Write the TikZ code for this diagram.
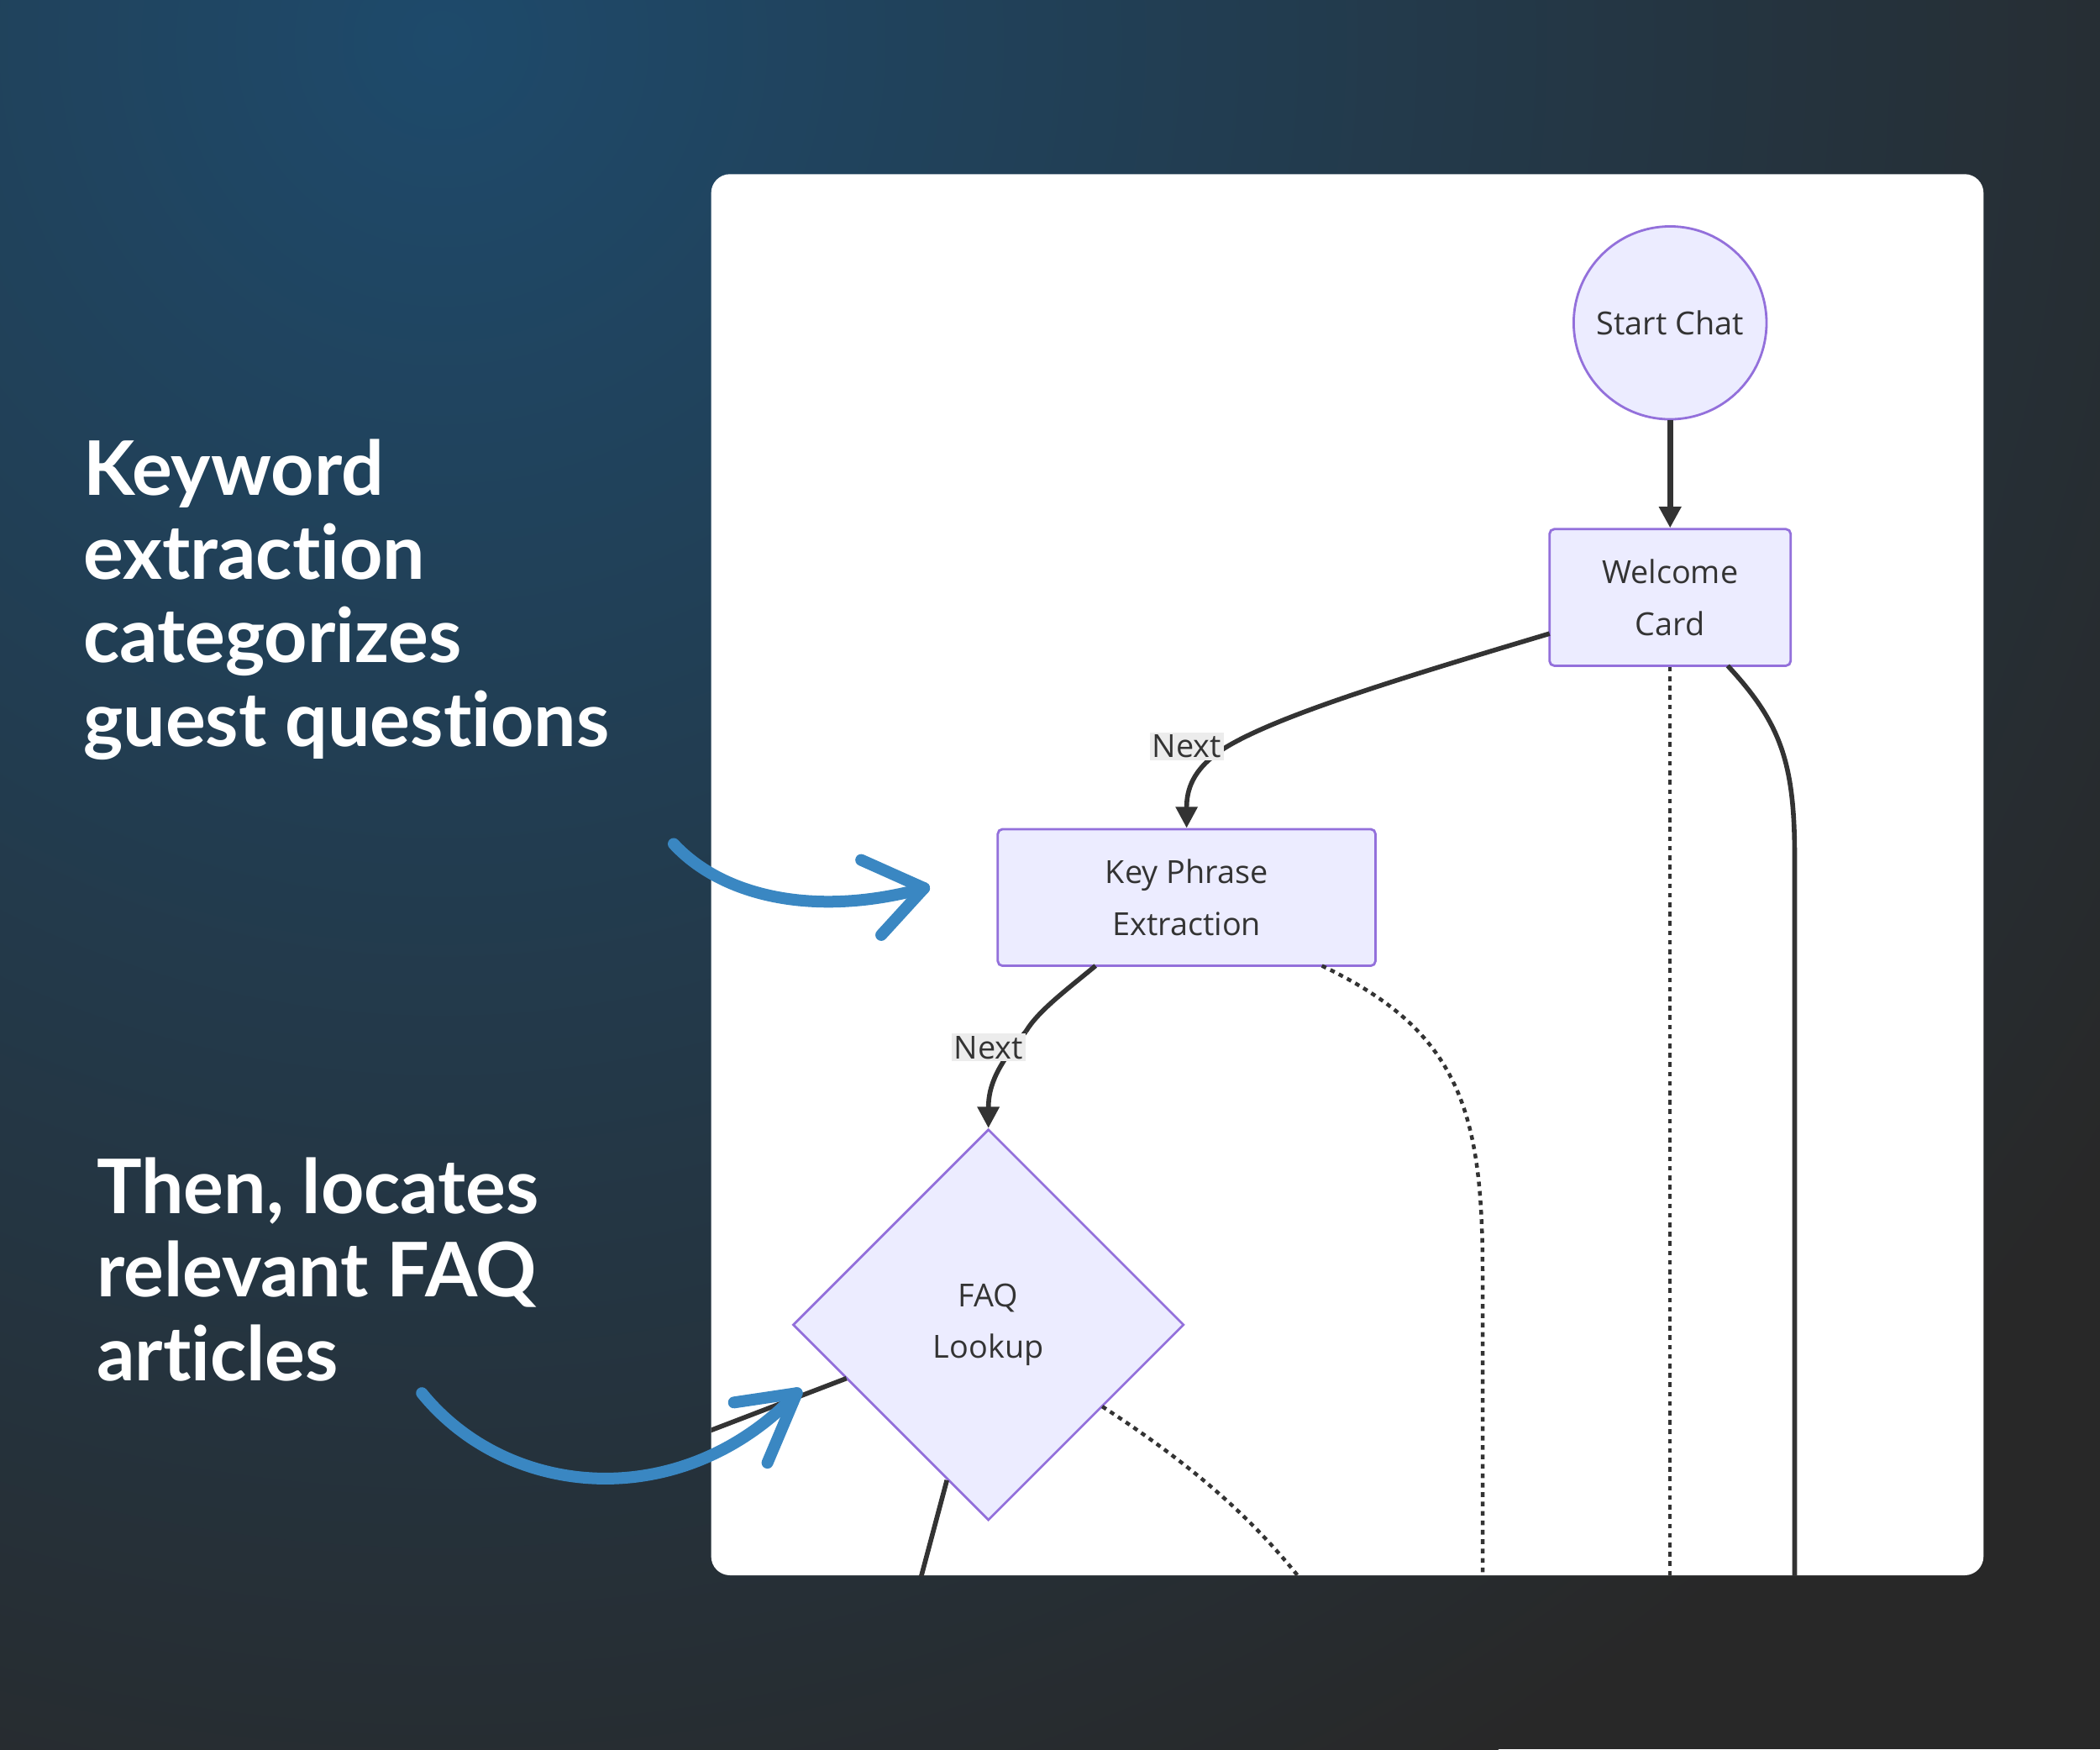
\documentclass[tikz,border=0pt]{standalone}
\usepackage{fontspec}
\setmainfont{Open Sans}
\newfontfamily\headfont{Lato}[Ligatures={NoCommon}]
\usetikzlibrary{arrows.meta,shapes.geometric}
\definecolor{nodefill}{HTML}{ECECFF}
\definecolor{nodedraw}{HTML}{9370DB}
\definecolor{edge}{HTML}{333333}
\definecolor{blueA}{HTML}{3A87C2}
\definecolor{bgblue}{HTML}{1E4A6B}
\definecolor{bgdark}{HTML}{282828}
\begin{document}
\begin{tikzpicture}[x=0.02cm,y=-0.02cm,
  nd/.style={fill=nodefill,draw=nodedraw,line width=1pt,font=\fontsize{13.5}{22}\selectfont,text=edge,align=center},
  ed/.style={draw=edge,line width=2pt},
  eda/.style={ed,-{Triangle[length=9pt,width=9pt]}},
  dot/.style={draw=edge,line width=1.6pt,dash pattern=on 2pt off 2pt},
  lbl/.style={fill=gray!15,inner sep=1pt,font=\fontsize{13.5}{15}\selectfont,text=edge},
  blue/.style={draw=blueA,line width=5pt,line cap=round,line join=round},
  head/.style={text=white,font=\headfont\bfseries\fontsize{32}{35.5}\selectfont,align=left,anchor=north west}]
\useasboundingbox (0,0) rectangle (1568,1306);
\begin{scope}
\clip (0,0) rectangle (1568,1306);
\fill[bgdark] (0,0) rectangle (1568,1306);
\shade[inner color=bgblue,outer color=bgdark] (330,30) circle[radius=1500];
\end{scope}
\fill[white,rounded corners=8pt] (531,130) rectangle (1481,1176);
\begin{scope}
\clip (531,130) rectangle (1481,1176);
\node[nd,circle,minimum size=144*0.02cm,inner sep=0] (start) at (1247,241) {Start Chat};
\node[nd,rectangle,rounded corners=2pt,minimum width=180*0.02cm,minimum height=102*0.02cm,inner sep=0] (welcome) at (1247,446) {Welcome\\Card};
\node[nd,rectangle,rounded corners=2pt,minimum width=282*0.02cm,minimum height=102*0.02cm,inner sep=0] (kpe) at (886,670) {Key Phrase\\Extraction};
\node[nd,diamond,minimum width=292*0.02cm,minimum height=292*0.02cm,inner sep=0] (faq) at (738,989) {FAQ\\Lookup};
\coordinate (b1) at (1107,1180);
\coordinate (b2) at (1247,1180);
\coordinate (b3) at (1340,1180);
\coordinate (b4) at (687,1180);
\coordinate (b5) at (972,1180);
\coordinate (b6) at (525,1070);
\coordinate (w1) at (1157,473);
\coordinate (nx1) at (912,560);
\coordinate (nx2) at (766,770);
\draw[ed,line width=2.6pt,-{Triangle[length=9pt,width=9pt]}] (start) -- (welcome);
\draw[ed] (w1) .. controls (1050,505) and (950,535) .. (nx1);
\draw[eda] (nx1) .. controls (890,575) and (886,590) .. (kpe.north);
\node[lbl] (l1) at (886,557) {Next};
\draw[ed] (818,721) .. controls (795,740) and (775,755) .. (nx2);
\draw[eda] (nx2) .. controls (745,795) and (738,810) .. (faq.north);
\node[lbl] (l2) at (738,782) {Next};
\draw[dot] (987,721) .. controls (1090,770) and (1107,830) .. (1107,950) -- (b1);
\draw[dot] (welcome.south) -- (b2);
\draw[ed] (1290,497) .. controls (1330,540) and (1340,570) .. (1340,640) -- (b3);
\draw[ed] (707,1105) -- (b4);
\draw[dot] (823,1050) .. controls (900,1100) and (940,1140) .. (b5);
\draw[ed] (632,1029) -- (b6);
\end{scope}
\node[head] (t1) at (56,322) {Keyword\\extraction\\categorizes\\guest questions};
\node[head] (t2) at (66,858) {Then, locates\\relevant FAQ\\articles};
\draw[blue] (503,630) .. controls (540,670) and (610,685) .. (690,663);
\draw[blue] (643,642) -- (690,663) -- (658,698);
\draw[blue] (315,1040) .. controls (380,1120) and (510,1130) .. (595,1040);
\draw[blue] (548,1047) -- (595,1040) -- (573,1092);
\end{tikzpicture}
\end{document}
